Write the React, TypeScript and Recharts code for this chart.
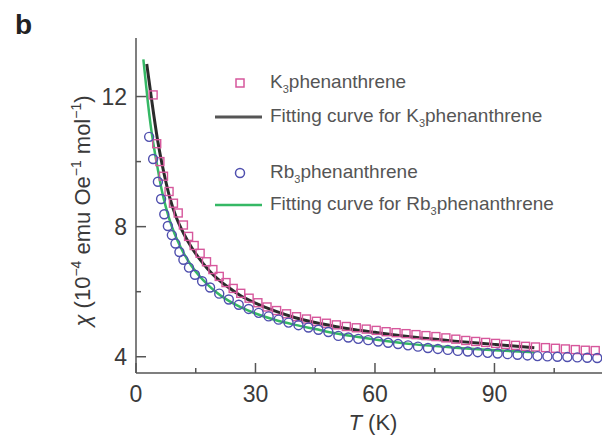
import { ComposedChart, Scatter, Line, XAxis, YAxis, Legend } from 'recharts';

const PINK = '#d6579c';
const BLUE = '#4f4fae';
const GREEN = '#35b865';
const BLACK = '#2b2b2b';
const FONT = '"Liberation Sans", Arial, sans-serif';

// K3phenanthrene, measured
const k3T = [
  4.3, 5.2, 6.0, 6.9, 8.3, 9.4, 10.6, 11.9, 13.2, 14.6, 16.1, 17.7, 19.3, 20.9, 22.6, 24.4,
  26.3, 28.4, 30.6, 32.9, 35.3, 37.8, 40.3, 42.8, 45.3, 47.8, 50.3, 52.8, 55.3, 57.8, 60.3,
  62.8, 65.3, 67.8, 70.3, 72.8, 75.3, 77.8, 80.3, 82.8, 85.3, 87.8, 90.3, 92.8, 95.3, 97.8,
  100.3, 102.8, 105.3, 107.8, 110.3, 112.8, 115.3,
];
const k3Chi = [
  12.05, 10.55, 10.0, 9.55, 9.08, 8.72, 8.42, 8.05, 7.7, 7.42, 7.18, 6.92, 6.68, 6.47, 6.28, 6.1,
  5.95, 5.8, 5.66, 5.53, 5.42, 5.32, 5.23, 5.16, 5.09, 5.03, 4.98, 4.93, 4.89, 4.85, 4.81,
  4.77, 4.74, 4.71, 4.68, 4.65, 4.62, 4.58, 4.54, 4.5, 4.47, 4.44, 4.41, 4.38, 4.35, 4.32,
  4.3, 4.28, 4.26, 4.24, 4.22, 4.2, 4.19,
];

// Rb3phenanthrene, measured
const rb3T = [
  3.3, 4.3, 5.5, 6.3, 7.1, 8.0, 9.0, 9.9, 10.9, 11.9, 13.3, 14.8, 16.6, 18.6, 20.9, 23.3,
  25.8, 28.3, 30.8, 33.3, 35.8, 38.3, 40.8, 43.3, 45.8, 48.3, 50.8, 53.3, 55.8, 58.3, 60.8,
  63.3, 65.8, 68.3, 70.8, 73.3, 75.8, 78.3, 80.8, 83.3, 85.8, 88.3, 90.8, 93.3, 95.8, 98.3,
  100.8, 103.3, 105.8, 108.3, 110.8, 113.3, 115.8,
];
const rb3Chi = [
  10.76, 10.08, 9.38, 8.85, 8.38, 8.02, 7.74, 7.48, 7.22, 6.98, 6.74, 6.52, 6.32, 6.13, 5.94, 5.76,
  5.6, 5.47, 5.35, 5.24, 5.14, 5.05, 4.97, 4.9, 4.83, 4.76, 4.64, 4.59, 4.55, 4.51, 4.47,
  4.43, 4.39, 4.35, 4.31, 4.27, 4.24, 4.21, 4.18, 4.16, 4.14, 4.12, 4.1, 4.08, 4.06, 4.04,
  4.02, 4.01, 4.0, 3.99, 3.98, 3.97, 3.96,
];

// fitting curves
const k3FitT = [2.7, 3.2, 3.7, 4.5, 5.5, 6.5, 7.5, 8.5, 10, 12, 14, 16, 18, 20, 23, 26, 30, 35, 40, 45, 50, 55, 60, 70, 80, 90, 100];
const k3FitChi = [13.0, 12.55, 12.1, 11.4, 10.6, 9.95, 9.38, 8.88, 8.32, 7.78, 7.35, 7.0, 6.7, 6.45, 6.15, 5.9, 5.65, 5.4, 5.2, 5.05, 4.93, 4.83, 4.75, 4.6, 4.48, 4.38, 4.28];
const rb3FitT = [1.85, 2.4, 3.0, 3.7, 4.5, 5.5, 6.5, 7.5, 9, 10.5, 12, 14, 16, 18, 20, 23, 26, 30, 35, 40, 45, 50, 55, 60, 70, 80, 90, 100];
const rb3FitChi = [13.14, 12.5, 11.8, 11.1, 10.45, 9.75, 9.1, 8.6, 8.0, 7.55, 7.18, 6.78, 6.47, 6.22, 6.0, 5.74, 5.54, 5.33, 5.13, 4.98, 4.85, 4.72, 4.62, 4.53, 4.38, 4.28, 4.2, 4.14];

const xTicks = [0, 15, 30, 45, 60, 75, 90, 105];
const yTicks = [4, 6, 8, 10, 12];

const pts = (ts: number[], vs: number[]) => ts.map((T, i) => ({ T, chi: vs[i] }));

const Square = (p: any) => (
  <rect x={p.cx - 4} y={p.cy - 4} width={8} height={8} fill="none" stroke={PINK} strokeWidth={1.4} />
);
const Ring = (p: any) => <circle cx={p.cx} cy={p.cy} r={4.5} fill="none" stroke={BLUE} strokeWidth={1.4} />;

const XTick = ({ x, y, payload }: any) => {
  const major = payload.value % 30 === 0;
  return (
    <g>
      <line x1={x} y1={y} x2={x} y2={y - (major ? 10 : 5)} stroke="#555" strokeWidth={1.5} />
      {major && (
        <text x={x} y={y + 29} textAnchor="middle" fontSize={23} fill="#3a3a3a" fontFamily={FONT}>
          {payload.value}
        </text>
      )}
    </g>
  );
};

const YTick = ({ x, y, payload }: any) => {
  const major = payload.value % 4 === 0;
  return (
    <g>
      <line x1={x} y1={y} x2={x + (major ? 10 : 5)} y2={y} stroke="#555" strokeWidth={1.5} />
      {major && (
        <text x={x - 9} y={y + 8} textAnchor="end" fontSize={23} fill="#3a3a3a" fontFamily={FONT}>
          {payload.value}
        </text>
      )}
    </g>
  );
};

const YTitle = () => (
  <text transform="translate(90, 211) rotate(-90)" textAnchor="middle" fontSize={22} fill="#3a3a3a" fontFamily={FONT}>
    <tspan fontStyle="italic">χ</tspan>
    <tspan> (10</tspan>
    <tspan fontSize={14} dy={-9}>−4</tspan>
    <tspan dy={9}> emu Oe</tspan>
    <tspan fontSize={14} dy={-9}>−1</tspan>
    <tspan dy={9}> mol</tspan>
    <tspan fontSize={14} dy={-9}>−1</tspan>
    <tspan dy={9}>)</tspan>
  </text>
);

const XTitle = () => (
  <text x={373} y={430} textAnchor="middle" fontSize={22} fill="#3a3a3a" fontFamily={FONT}>
    <tspan fontStyle="italic">T</tspan>
    <tspan> (K)</tspan>
  </text>
);

const rows = [
  { top: 17, kind: 'square', pre: 'K', post: 'phenanthrene' },
  { top: 51, kind: 'black', pre: 'Fitting curve for K', post: 'phenanthrene' },
  { top: 107, kind: 'ring', pre: 'Rb', post: 'phenanthrene' },
  { top: 139, kind: 'green', pre: 'Fitting curve for Rb', post: 'phenanthrene' },
];

const LegendBox = () => (
  <div style={{ position: 'relative', height: 160, fontFamily: FONT }}>
    {rows.map((r) => (
      <div
        key={r.pre}
        style={{ position: 'absolute', top: r.top - 12, left: 0, height: 24, display: 'flex', alignItems: 'center' }}
      >
        <svg width={62} height={24}>
          {r.kind === 'square' && <rect x={28} y={8} width={8} height={8} fill="none" stroke={PINK} strokeWidth={1.5} />}
          {r.kind === 'ring' && <circle cx={32} cy={12} r={4.5} fill="none" stroke={BLUE} strokeWidth={1.5} />}
          {r.kind === 'black' && <line x1={7} y1={12} x2={54} y2={12} stroke="#555" strokeWidth={3} />}
          {r.kind === 'green' && <line x1={7} y1={12} x2={54} y2={12} stroke={GREEN} strokeWidth={2.5} />}
        </svg>
        <span style={{ fontSize: 19, color: '#555', whiteSpace: 'nowrap' }}>
          {r.pre}
          <sub style={{ fontSize: 11 }}>3</sub>
          {r.post}
        </span>
      </div>
    ))}
  </div>
);

export default function App() {
  return (
    <div style={{ position: 'absolute', left: 0, top: 0, width: 602, height: 437, background: '#fff' }}>
      <div style={{ position: 'absolute', left: 15, top: 9, fontSize: 28, fontWeight: 700, fontFamily: FONT, color: '#222' }}>
        b
      </div>
      <ComposedChart width={602} height={437} margin={{ top: 38, right: 0, bottom: 0, left: 0 }}>
        <XAxis
          dataKey="T"
          type="number"
          domain={[0, 117]}
          allowDataOverflow
          ticks={xTicks}
          interval={0}
          height={64}
          tickSize={0}
          tickMargin={0}
          tickLine={false}
          tick={XTick}
          axisLine={{ stroke: '#555', strokeWidth: 1.5 }}
          label={<XTitle />}
        />
        <YAxis
          dataKey="chi"
          type="number"
          domain={[3.5, 13.8]}
          allowDataOverflow
          ticks={yTicks}
          interval={0}
          width={136}
          tickSize={0}
          tickMargin={0}
          tickLine={false}
          tick={YTick}
          axisLine={{ stroke: '#555', strokeWidth: 1.5 }}
          label={<YTitle />}
        />
        <Legend
          layout="vertical"
          align="center"
          verticalAlign="middle"
          content={LegendBox}
          wrapperStyle={{ top: 66, left: 208, width: 390 }}
        />
        <Scatter data={pts(k3T, k3Chi)} dataKey="chi" shape={Square} isAnimationActive={false} />
        <Scatter data={pts(rb3T, rb3Chi)} dataKey="chi" shape={Ring} isAnimationActive={false} />
        <Line
          data={pts(k3FitT, k3FitChi)}
          dataKey="chi"
          type="monotone"
          stroke={BLACK}
          strokeWidth={3}
          dot={false}
          isAnimationActive={false}
        />
        <Line
          data={pts(rb3FitT, rb3FitChi)}
          dataKey="chi"
          type="monotone"
          stroke={GREEN}
          strokeWidth={2.5}
          dot={false}
          isAnimationActive={false}
        />
      </ComposedChart>
    </div>
  );
}
